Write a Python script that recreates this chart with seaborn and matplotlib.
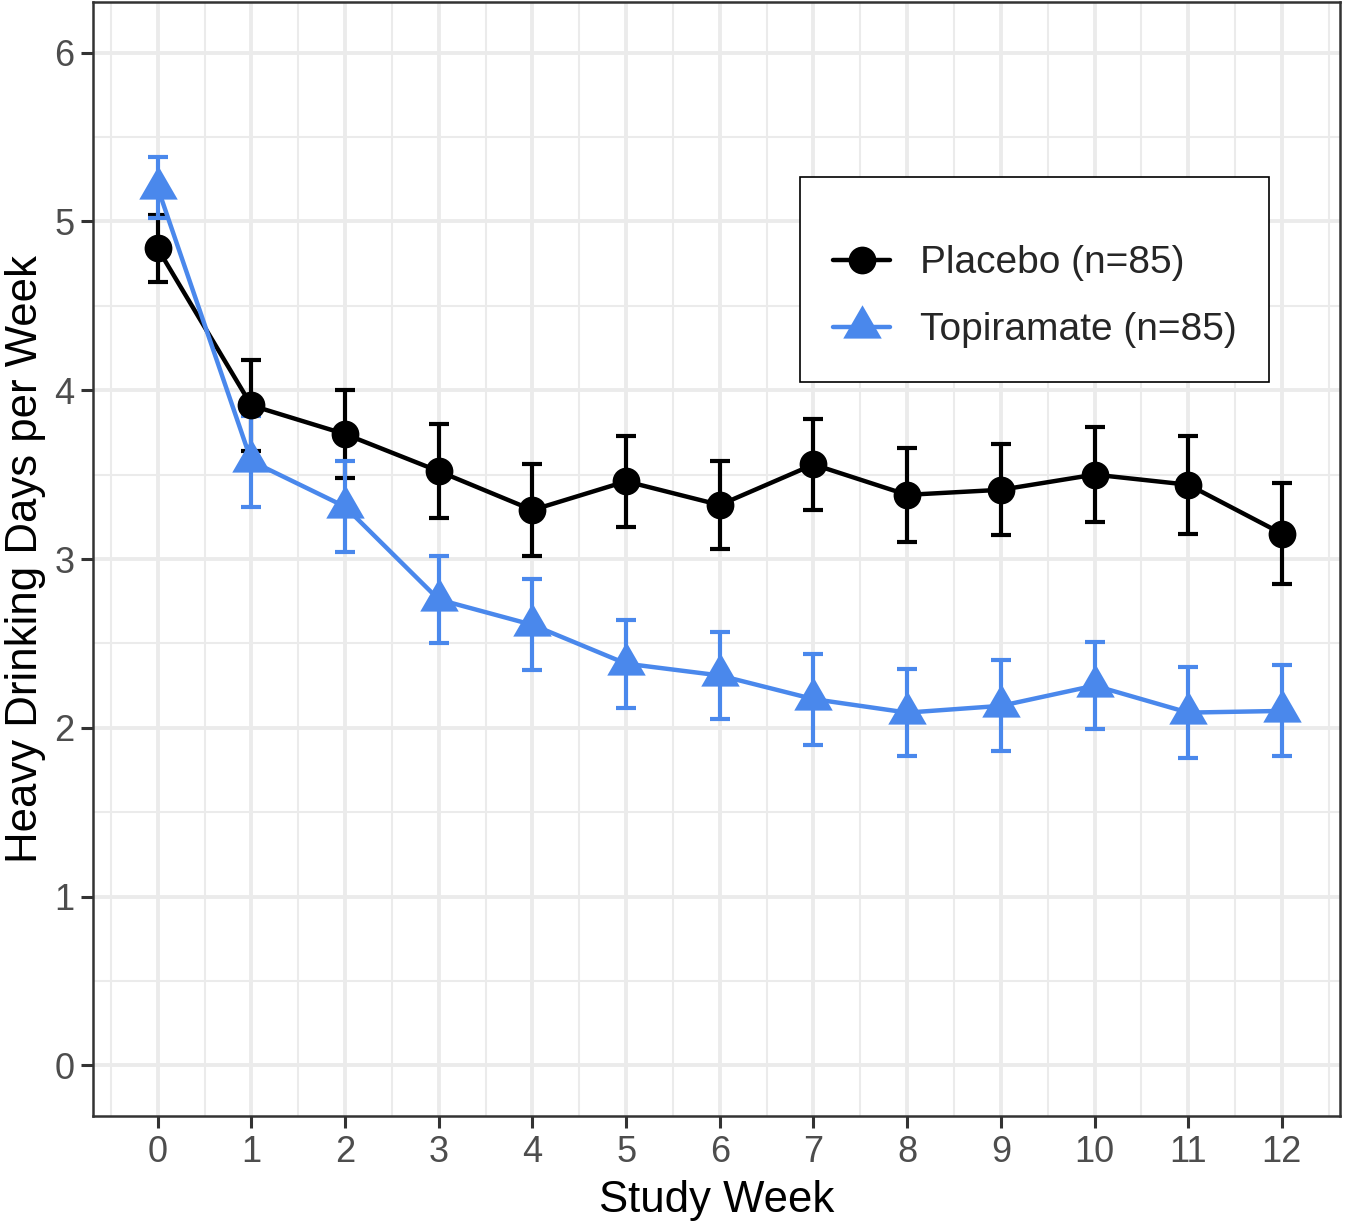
import numpy as np
import pandas as pd
import matplotlib
matplotlib.use("Agg")
import matplotlib.pyplot as plt
from matplotlib.ticker import MultipleLocator
import seaborn as sns

# --- Data ---
weeks = list(range(13))
placebo_mean = [4.84, 3.91, 3.74, 3.52, 3.29, 3.46, 3.32, 3.56, 3.38, 3.41, 3.50, 3.44, 3.15]
placebo_se = [0.20, 0.27, 0.26, 0.28, 0.27, 0.27, 0.26, 0.27, 0.28, 0.27, 0.28, 0.29, 0.30]
topiramate_mean = [5.20, 3.58, 3.31, 2.76, 2.61, 2.38, 2.31, 2.17, 2.09, 2.13, 2.25, 2.09, 2.10]
topiramate_se = [0.18, 0.27, 0.27, 0.26, 0.27, 0.26, 0.26, 0.27, 0.26, 0.27, 0.26, 0.27, 0.27]

groups = ["Placebo (n=85)", "Topiramate (n=85)"]
colors = {"Placebo (n=85)": "black", "Topiramate (n=85)": "#4A88EC"}
markers = {"Placebo (n=85)": "o", "Topiramate (n=85)": (3, 0, 0)}
marker_sizes = {"Placebo (n=85)": 20, "Topiramate (n=85)": 32}
x_ticks = list(range(13))
y_ticks = list(range(7))

df = pd.DataFrame({
    "week": weeks * 2,
    "mean": placebo_mean + topiramate_mean,
    "se": placebo_se + topiramate_se,
    "group": [groups[0]] * len(weeks) + [groups[1]] * len(weeks),
})

sns.set_theme(style="white")
plt.rcParams["font.family"] = ["Liberation Sans", "DejaVu Sans"]

fig = plt.figure(figsize=(13.5, 12.24), dpi=100)
ax = fig.add_axes([0.0689, 0.0882, 0.9926 - 0.0689, 0.9984 - 0.0882])

# error bars first, then lines/points
for g in groups:
    sub = df[df["group"] == g]
    ax.errorbar(sub["week"], sub["mean"], yerr=sub["se"], fmt="none",
                ecolor=colors[g], elinewidth=3.0, capsize=7.5, capthick=3.0, zorder=3)

sns.lineplot(data=df, x="week", y="mean", hue="group", style="group",
             hue_order=groups, style_order=groups, palette=colors,
             markers=markers, dashes=False, linewidth=3.2, ax=ax,
             markersize=20, markeredgewidth=0, zorder=4)
# enlarge triangles to match the reference
for line in ax.lines:
    if line.get_color() == colors[groups[1]]:
        line.set_markersize(marker_sizes[groups[1]])

ax.set_xlim(-0.69, 12.62)
ax.set_ylim(-0.3, 6.3)
ax.set_xticks(x_ticks)
ax.set_yticks(y_ticks)
ax.xaxis.set_minor_locator(MultipleLocator(0.5))
ax.yaxis.set_minor_locator(MultipleLocator(0.5))
ax.grid(True, which="major", color="#EBEBEB", linewidth=2.8, zorder=0)
ax.grid(True, which="minor", color="#EBEBEB", linewidth=1.5, zorder=0)
ax.set_axisbelow(True)

for s in ax.spines.values():
    s.set_color("#333333")
    s.set_linewidth(1.8)

ax.tick_params(axis="both", which="major", length=8.5, width=2.2, color="#333333",
               labelsize=26, labelcolor="#4D4D4D", pad=5, bottom=True, left=True)
ax.tick_params(axis="both", which="minor", length=0)

ax.set_xlabel("Study Week", fontsize=31.5, color="black", labelpad=7)
ax.set_ylabel("Heavy Drinking Days per Week", fontsize=31.5, color="black", labelpad=6)

handles, labels = ax.get_legend_handles_labels()
leg = ax.legend(handles, labels, loc="center", bbox_to_anchor=(0.567, 0.659, 0.376, 0.184),
                mode="expand", fontsize=28, frameon=True, fancybox=False,
                edgecolor="black", framealpha=1, borderpad=0.85, labelspacing=0.8,
                handlelength=1.47, handletextpad=0.77, borderaxespad=0,
                title=" ", title_fontsize=3)
leg.get_frame().set_linewidth(1.2)
for h, lab in zip(leg.legend_handles, labels):
    h.set_markeredgewidth(0)
    h.set_markersize(marker_sizes[lab])
    h.set_linewidth(3.2)

fig.savefig("out.png", dpi=100)
